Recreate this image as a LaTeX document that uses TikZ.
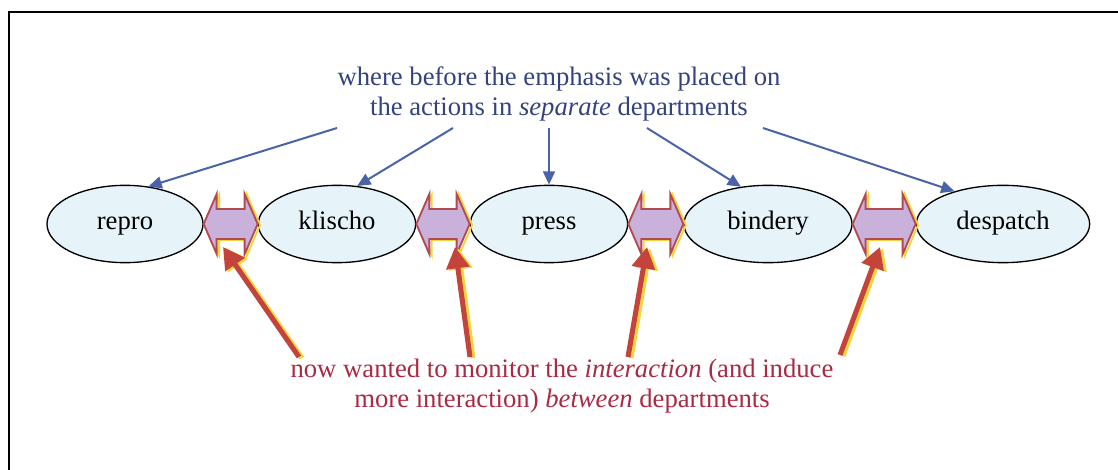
\documentclass[tikz,border=0pt]{standalone}
\usepackage{fontspec}
\setmainfont{Liberation Serif}
\usepackage{xcolor}
\usetikzlibrary{arrows.meta,positioning,shapes.geometric,calc}
\definecolor{deptfill}{HTML}{E6F3F9}
\definecolor{bluetext}{HTML}{34437E}
\definecolor{bluearrow}{HTML}{4A63A8}
\definecolor{redtext}{HTML}{A82A44}
\definecolor{redarrow}{HTML}{C4443C}
\definecolor{glow}{HTML}{F2D43C}
\definecolor{linkfill}{HTML}{C9B1DC}
\definecolor{linkedge}{HTML}{B24A52}

\begin{document}
\begin{tikzpicture}[x=0.75pt,y=-0.75pt,
      every node/.style={font=\fontsize{20}{22.5}\selectfont},
      dept/.style={ellipse,draw,line width=1pt,fill=deptfill,minimum height=58pt,inner sep=0pt,
        text height=13pt,text depth=4pt},
      before/.style={-{Triangle[length=10pt,width=9pt]},line width=1.5pt,draw=bluearrow,fill=bluearrow},
      wanted/.style={-{Triangle[length=16pt,width=17pt]},line width=3.8pt,draw=redarrow,fill=redarrow},
      wantedglow/.style={wanted,draw=glow,fill=glow,transform canvas={shift={(2.2pt,-0.8pt)}}},
      linkbox/.style={fill=linkfill,draw=linkedge,line width=1.4pt,line join=miter},
      linkglow/.style={draw=glow,line width=1.4pt,transform canvas={shift={(1.8pt,-0.8pt)}}}
  ]
    \useasboundingbox (0,0) rectangle (1118,470);
    \draw[line width=1.2pt] (9,480) -- (9,12) -- (1130,12);

    % departments
    \node[dept,minimum width=117pt] (repro) at (125,224) {repro};
    \node[dept,minimum width=118pt] (klischo) at (337,224) {klischo};
    \node[dept,minimum width=118pt] (press) at (549,224) {press};
    \node[dept,minimum width=126pt] (bindery) at (768,224) {bindery};
    \node[dept,minimum width=130pt] (despatch) at (1003,224) {despatch};

    % interaction arrows between departments
    \foreach \a/\b in {repro/klischo,klischo/press,press/bindery,bindery/despatch}{
      \foreach \s in {linkglow,linkbox}{
        \path[\s] (\a.east) -- ($(\a.east)+(13,-30)$) -- ($(\a.east)+(13,-15)$)
          -- ($(\b.west)+(-13,-15)$) -- ($(\b.west)+(-13,-30)$) -- (\b.west)
          -- ($(\b.west)+(-13,30)$) -- ($(\b.west)+(-13,15)$)
          -- ($(\a.east)+(13,15)$) -- ($(\a.east)+(13,30)$) -- cycle;
      }
    }

    % top remark
    \node[text=bluetext,align=center] (beforetext) at (559,94)
      {where before the emphasis was placed on\\the actions in \textit{separate} departments};
    \coordinate (b1) at (337,128);
    \coordinate (b2) at (453,128);
    \coordinate (b3) at (549,128);
    \coordinate (b4) at (647,128);
    \coordinate (b5) at (763,128);
    \draw[before] (b1) -- (repro.58);
    \draw[before] (b2) -- (klischo.62);
    \draw[before] (b3) -- (press.90);
    \draw[before] (b4) -- (bindery.126);
    \draw[before] (b5) -- (despatch.146);

    % bottom remark
    \node[text=redtext,align=center] (wantedtext) at (562,386)
      {now wanted to monitor the \textit{interaction} (and induce\\more interaction) \textit{between} departments};
    \coordinate (w1) at (299,357);
    \coordinate (w2) at (470,357);
    \coordinate (w3) at (628,357);
    \coordinate (w4) at (840,355);
    \coordinate (h1) at (223,247);
    \coordinate (h2) at (455,247);
    \coordinate (h3) at (647,247);
    \coordinate (h4) at (880,247);
    \foreach \i in {1,...,4}{
      \draw[wantedglow] (w\i) -- (h\i);
      \draw[wanted] (w\i) -- (h\i);
    }
  \end{tikzpicture}
\end{document}
